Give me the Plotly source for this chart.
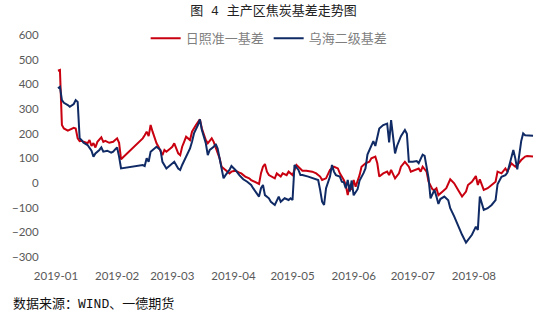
import plotly.graph_objects as go

# 日照准一基差
rizhao_dates = [
    "2019-01-02", "2019-01-03", "2019-01-04", "2019-01-05", "2019-01-07", "2019-01-08",
    "2019-01-10", "2019-01-11", "2019-01-12", "2019-01-13", "2019-01-14", "2019-01-15",
    "2019-01-17", "2019-01-18", "2019-01-19", "2019-01-20", "2019-01-21", "2019-01-22",
    "2019-01-24", "2019-01-25", "2019-01-26", "2019-01-28", "2019-01-30", "2019-02-01",
    "2019-02-02", "2019-02-03", "2019-02-14", "2019-02-15", "2019-02-16", "2019-02-17",
    "2019-02-18", "2019-02-19", "2019-02-21", "2019-02-22", "2019-02-24", "2019-02-25",
    "2019-02-26", "2019-02-28", "2019-03-01", "2019-03-02", "2019-03-04", "2019-03-05",
    "2019-03-06", "2019-03-07", "2019-03-08", "2019-03-10", "2019-03-11", "2019-03-13",
    "2019-03-15", "2019-03-16", "2019-03-18", "2019-03-19", "2019-03-21", "2019-03-22",
    "2019-03-23", "2019-03-25", "2019-03-26", "2019-03-28", "2019-03-30", "2019-03-31",
    "2019-04-02", "2019-04-04", "2019-04-05", "2019-04-07", "2019-04-09", "2019-04-10",
    "2019-04-12", "2019-04-14", "2019-04-15", "2019-04-16", "2019-04-17", "2019-04-18",
    "2019-04-19", "2019-04-22", "2019-04-23", "2019-04-25", "2019-04-26", "2019-04-28",
    "2019-04-29", "2019-05-01", "2019-05-03", "2019-05-05", "2019-05-06", "2019-05-08",
    "2019-05-11", "2019-05-13", "2019-05-15", "2019-05-16", "2019-05-18", "2019-05-20",
    "2019-05-22", "2019-05-24", "2019-05-25", "2019-05-27", "2019-05-28", "2019-05-29",
    "2019-05-30", "2019-05-31", "2019-06-01", "2019-06-02", "2019-06-04", "2019-06-05",
    "2019-06-07", "2019-06-09", "2019-06-10", "2019-06-12", "2019-06-13", "2019-06-14",
    "2019-06-16", "2019-06-18", "2019-06-19", "2019-06-20", "2019-06-22", "2019-06-24",
    "2019-06-25", "2019-06-27", "2019-06-29", "2019-06-30", "2019-07-02", "2019-07-04",
    "2019-07-05", "2019-07-06", "2019-07-08", "2019-07-09", "2019-07-11", "2019-07-12",
    "2019-07-13", "2019-07-14", "2019-07-16", "2019-07-18", "2019-07-20", "2019-07-22",
    "2019-07-24", "2019-07-26", "2019-07-28", "2019-07-29", "2019-07-31", "2019-08-02",
    "2019-08-03", "2019-08-04", "2019-08-06", "2019-08-08", "2019-08-10", "2019-08-12",
    "2019-08-13", "2019-08-15", "2019-08-17", "2019-08-18", "2019-08-20", "2019-08-22",
    "2019-08-23", "2019-08-25", "2019-08-27", "2019-08-28", "2019-08-31",
]
rizhao_values = [
    455, 458, 235, 221, 212, 217,
    224, 221, 181, 170, 171, 167,
    161, 174, 150, 162, 144, 167,
    185, 167, 171, 163, 167, 181,
    163, 96, 181, 194, 208, 190,
    235, 208, 161, 147, 113, 134,
    127, 140, 147, 161, 120, 113,
    147, 167, 188, 174, 208, 235,
    258, 221, 174, 161, 181, 167,
    147, 100, 66, 53, 39, 46,
    50, 42, 39, 26, 19, 12,
    5, -4, 40, 66, 77, 46,
    32, 19, 39, 26, 39, 32,
    46, 32, 73, 59, 50, 50,
    46, 39, 26, 12, 19, 53,
    66, 59, 39, 12, -8, -49,
    -8, -28, 12, -15, 32, 66,
    80, 86, 100, 107, 80, 26,
    39, 46, 32, 53, 19, 39,
    66, 86, 66, 46, 53, 59,
    46, 66, 46, 5, -26, -28,
    -21, -49, -35, -21, 15, -1,
    -28, -55, -35, -8, 5, 28,
    -8, 15, -28, -21, -8, 5,
    46, 39, 59, 46, 80, 66,
    73, 93, 107, 109, 107,
]

# 乌海二级基差
wuhai_dates = [
    "2019-01-02", "2019-01-03", "2019-01-04", "2019-01-05", "2019-01-07", "2019-01-08",
    "2019-01-10", "2019-01-11", "2019-01-12", "2019-01-13", "2019-01-14", "2019-01-15",
    "2019-01-17", "2019-01-18", "2019-01-19", "2019-01-20", "2019-01-21", "2019-01-23",
    "2019-01-24", "2019-01-25", "2019-01-27", "2019-01-29", "2019-01-30", "2019-01-31",
    "2019-02-01", "2019-02-02", "2019-02-03", "2019-02-14", "2019-02-15", "2019-02-16",
    "2019-02-17", "2019-02-18", "2019-02-20", "2019-02-21", "2019-02-23", "2019-02-24",
    "2019-02-26", "2019-02-27", "2019-02-28", "2019-03-02", "2019-03-04", "2019-03-05",
    "2019-03-06", "2019-03-08", "2019-03-10", "2019-03-11", "2019-03-12", "2019-03-14",
    "2019-03-15", "2019-03-16", "2019-03-18", "2019-03-19", "2019-03-20", "2019-03-22",
    "2019-03-23", "2019-03-24", "2019-03-27", "2019-03-28", "2019-03-30", "2019-03-31",
    "2019-04-02", "2019-04-04", "2019-04-06", "2019-04-08", "2019-04-10", "2019-04-11",
    "2019-04-13", "2019-04-14", "2019-04-15", "2019-04-16", "2019-04-17", "2019-04-19",
    "2019-04-20", "2019-04-22", "2019-04-24", "2019-04-25", "2019-04-27", "2019-04-29",
    "2019-04-30", "2019-05-01", "2019-05-02", "2019-05-04", "2019-05-05", "2019-05-06",
    "2019-05-09", "2019-05-12", "2019-05-14", "2019-05-15", "2019-05-16", "2019-05-17",
    "2019-05-18", "2019-05-20", "2019-05-21", "2019-05-22", "2019-05-23", "2019-05-25",
    "2019-05-26", "2019-05-27", "2019-05-28", "2019-05-29", "2019-05-30", "2019-05-31",
    "2019-06-01", "2019-06-03", "2019-06-04", "2019-06-06", "2019-06-07", "2019-06-08",
    "2019-06-10", "2019-06-11", "2019-06-12", "2019-06-13", "2019-06-14", "2019-06-16",
    "2019-06-18", "2019-06-19", "2019-06-20", "2019-06-22", "2019-06-23", "2019-06-25",
    "2019-06-26", "2019-06-27", "2019-06-28", "2019-06-29", "2019-07-01", "2019-07-03",
    "2019-07-04", "2019-07-06", "2019-07-07", "2019-07-08", "2019-07-09", "2019-07-10",
    "2019-07-12", "2019-07-13", "2019-07-14", "2019-07-15", "2019-07-17", "2019-07-19",
    "2019-07-20", "2019-07-22", "2019-07-23", "2019-07-24", "2019-07-26", "2019-07-28",
    "2019-07-29", "2019-07-31", "2019-08-02", "2019-08-03", "2019-08-04", "2019-08-06",
    "2019-08-08", "2019-08-10", "2019-08-12", "2019-08-13", "2019-08-15", "2019-08-17",
    "2019-08-18", "2019-08-20", "2019-08-21", "2019-08-22", "2019-08-23", "2019-08-25",
    "2019-08-26", "2019-08-27", "2019-08-28", "2019-08-31",
]
wuhai_values = [
    384, 390, 336, 325, 316, 309,
    320, 336, 329, 181, 174, 163,
    154, 140, 131, 107, 120, 134,
    144, 127, 131, 123, 127, 136,
    144, 107, 59, 73, 69, 100,
    86, 127, 140, 147, 134, 86,
    59, 66, 73, 86, 59, 53,
    73, 107, 140, 167, 201, 235,
    258, 215, 161, 113, 134, 147,
    158, 140, 19, 32, 53, 69,
    53, 32, 15, 5, -8, -21,
    -42, -55, -21, -8, -49, -62,
    -76, -89, -55, -76, -62, -69,
    -62, -69, 73, 53, 32, 32,
    26, 19, 12, -28, -76, -89,
    -21, 26, 73, 46, 32, 26,
    5, 3, -21, 12, -35, 10,
    -50, -25, 10, 40, 59, 115,
    150, 170, 150, 188, 221, 235,
    241, 165, 255, 120, 150, 190,
    205, 215, 200, 86, 86, 89,
    80, 115, 110, 70, 20, -62,
    -28, -55, -85, -65, -55, -70,
    -102, -135, -155, -175, -210, -242,
    -231, -210, -177, -190, -55, -109,
    -102, -89, -69, -5, 25, 32,
    42, 100, 134, 100, 55, 170,
    201, 194, 194, 192,
]

month_ticks = ["2019-01-01", "2019-02-01", "2019-03-01", "2019-04-01",
               "2019-05-01", "2019-06-01", "2019-07-01", "2019-08-01"]
month_labels = ["2019-01", "2019-02", "2019-03", "2019-04",
                "2019-05", "2019-06", "2019-07", "2019-08"]

CJK = "Noto Sans CJK SC"
# half-width Latin glyphs from a monospace face, CJK glyphs fall back to Noto
MIXED = "'Liberation Mono', 'Noto Sans CJK SC'"
TICK_FONT = dict(family="Lato, 'Noto Sans', sans-serif", size=11.5, color="#595959")
X_RANGE = ["2019-01-01", "2019-09-01"]

fig = go.Figure()
fig.add_trace(go.Scatter(
    x=rizhao_dates, y=rizhao_values, name="日照准一基差", mode="lines",
    line=dict(color="#C8000F", width=2),
))
fig.add_trace(go.Scatter(
    x=wuhai_dates, y=wuhai_values, name="乌海二级基差", mode="lines",
    line=dict(color="#0F2A64", width=2),
))

fig.update_layout(
    width=547, height=327,
    margin=dict(l=49, r=12, t=35, b=70),
    paper_bgcolor="white", plot_bgcolor="white",
    title=dict(
        text="图 4 主产区焦炭基差走势图",
        font=dict(family=MIXED, size=13, color="#222222"),
        x=0.5, xref="container", xanchor="center",
        y=1 - 10 / 327, yref="container", yanchor="middle",
    ),
    legend=dict(
        orientation="h", x=0.445, xanchor="center", y=0.985, yanchor="middle",
        font=dict(family=CJK, size=13, color="#7F7F7F"),
        bgcolor="rgba(0,0,0,0)", itemwidth=30, tracegroupgap=0,
    ),
    xaxis=dict(
        type="date", range=X_RANGE,
        tickmode="array", tickvals=month_ticks, ticktext=month_labels,
        showgrid=False, zeroline=False, showline=False,
        ticks="outside", ticklen=8, tickcolor="rgba(0,0,0,0)",
        tickfont=TICK_FONT,
    ),
    # axis line with month ticks drawn along the zero level
    xaxis2=dict(
        type="date", range=X_RANGE, overlaying="x", anchor="free", position=1 / 3,
        tickmode="array", tickvals=month_ticks + ["2019-09-01"],
        showticklabels=False, showgrid=False, zeroline=False,
        showline=True, linecolor="#D9D9D9", linewidth=1,
        ticks="outside", ticklen=4, tickcolor="#D9D9D9", tickwidth=1,
    ),
    yaxis=dict(
        range=[-300, 600], dtick=100, tick0=0,
        showgrid=False, zeroline=False, showline=False,
        ticks="outside", ticklen=14, tickcolor="rgba(0,0,0,0)",
        tickfont=TICK_FONT,
    ),
    annotations=[dict(
        text="数据来源：WIND、一德期货",
        xref="paper", yref="paper", x=(3 - 49) / 486, y=(257 - 304) / 222,
        xanchor="left", yanchor="middle", showarrow=False,
        font=dict(family=MIXED, size=13, color="#111111"),
    )],
)

fig.write_html("out.html")
